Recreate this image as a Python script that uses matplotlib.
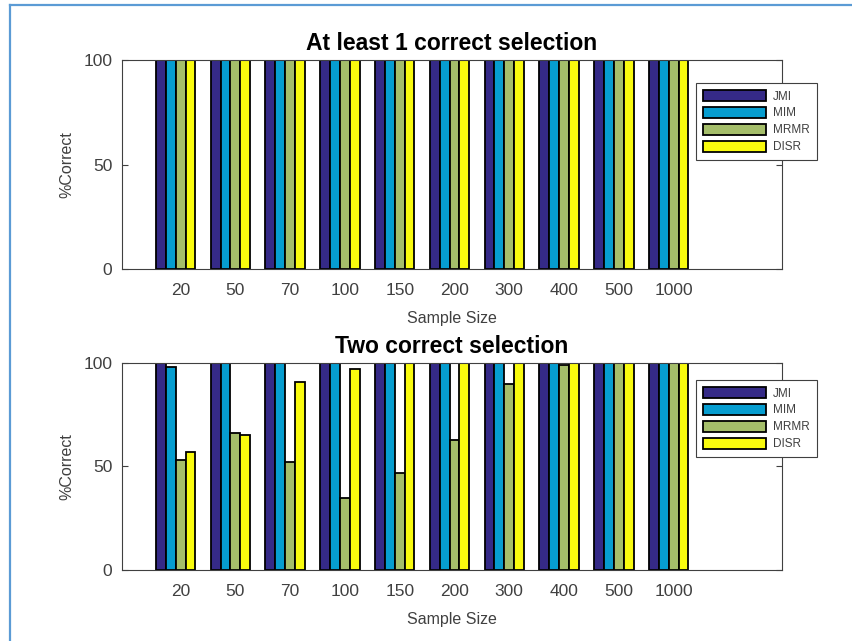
import numpy as np
import matplotlib
matplotlib.use("Agg")
import matplotlib.pyplot as plt
from matplotlib.lines import Line2D

# Data
sample_sizes = ["20", "50", "70", "100", "150", "200", "300", "400", "500", "1000"]
methods = ["JMI", "MIM", "MRMR", "DISR"]

# At least 1 correct selection
top_jmi = [100, 100, 100, 100, 100, 100, 100, 100, 100, 100]
top_mim = [100, 100, 100, 100, 100, 100, 100, 100, 100, 100]
top_mrmr = [100, 100, 100, 100, 100, 100, 100, 100, 100, 100]
top_disr = [100, 100, 100, 100, 100, 100, 100, 100, 100, 100]

# Two correct selection
bot_jmi = [100, 100, 100, 100, 100, 100, 100, 100, 100, 100]
bot_mim = [98, 100, 100, 100, 100, 100, 100, 100, 100, 100]
bot_mrmr = [53, 66, 52, 35, 47, 63, 90, 99, 100, 100]
bot_disr = [57, 65, 91, 97, 100, 100, 100, 100, 100, 100]

colors = ["#352a87", "#069dd0", "#a5be6a", "#f9fb0e"]

plt.rcParams['font.family'] = ['Liberation Sans', 'DejaVu Sans']

fig = plt.figure(figsize=(8.53, 6.41), dpi=100)

# light blue frame of the screenshot
fig.add_artist(Line2D([9.5/853, 9.5/853], [0, 1 - 5/641], color="#5b9bd5", lw=1.6))
fig.add_artist(Line2D([9.5/853, 1], [1 - 5/641, 1 - 5/641], color="#5b9bd5", lw=1.6))


def draw(ax, series, title, leg_y):
    x = np.arange(1, len(sample_sizes) + 1)
    w = 0.18
    for k, (vals, c, name) in enumerate(zip(series, colors, methods)):
        ax.bar(x + (k - 2) * w, vals, width=w, color=c, edgecolor="black",
               linewidth=1.3, label=name)
    ax.set_xlim(-0.07, 11.98)
    ax.set_ylim(0, 100)
    ax.set_yticks([0, 50, 100])
    ax.set_xticks(x)
    ax.set_xticklabels(sample_sizes)
    ax.tick_params(axis="x", length=0, pad=10, labelsize=12.5, colors="#404040")
    ax.tick_params(axis="y", direction="in", length=4, pad=7, labelsize=12.5,
                   colors="#404040", right=True)
    for s in ax.spines.values():
        s.set_color("#404040")
        s.set_linewidth(0.8)
    ax.set_title(title, fontsize=16.5, fontweight="bold", pad=7.5)
    ax.set_xlabel("Sample Size", fontsize=11.5, color="#404040", labelpad=9.5)
    ax.set_ylabel("%Correct", fontsize=11.5, color="#404040", labelpad=6.5)
    leg = ax.legend(loc="upper left", bbox_to_anchor=(0.87, leg_y), fontsize=8.5,
                    handlelength=5.3, handleheight=1.07, fancybox=False,
                    framealpha=1, edgecolor="#404040", borderpad=0.6,
                    labelspacing=0.36, handletextpad=0.6, borderaxespad=0)
    leg.get_frame().set_linewidth(0.8)
    for t in leg.get_texts():
        t.set_color("#404040")


ax1 = fig.add_axes([0.1430, 0.5803, 0.7738, 0.3261])
draw(ax1, [top_jmi, top_mim, top_mrmr, top_disr], "At least 1 correct selection", 0.89)

ax2 = fig.add_axes([0.1430, 0.1108, 0.7738, 0.3229])
draw(ax2, [bot_jmi, bot_mim, bot_mrmr, bot_disr], "Two correct selection", 0.918)

fig.savefig("out.png", dpi=100)
